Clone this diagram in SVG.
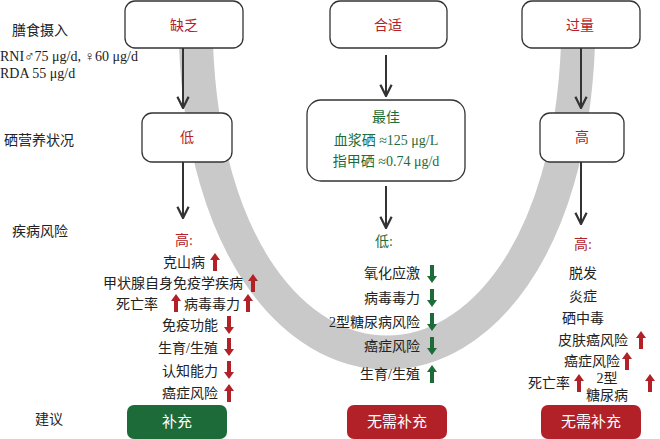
<svg xmlns="http://www.w3.org/2000/svg" xmlns:xlink="http://www.w3.org/1999/xlink" width="660" height="439" viewBox="0 0 660 439">
<style>
text{font-family:"Liberation Serif","Noto Sans CJK SC",serif;font-size:14px;fill:#222}
.box{fill:#fff;stroke:#333;stroke-width:1.3}
.red{fill:#b22028}.grn{fill:#1e6b3a}.w{fill:#fff;font-size:15px}
.ln{stroke:#333;stroke-width:2;fill:none}
</style>
<defs>
<marker id="ah" viewBox="0 0 10 10" refX="9" refY="5" markerWidth="7" markerHeight="7" orient="auto"><path d="M1 1L9 5L1 9" fill="none" stroke="#333" stroke-width="1.6"/></marker>
<path id="up" d="M0-9L5-2H2V9H-2V-2H-5Z"/>
<path id="dn" d="M0 9L5 2H2V-9H-2V2H-5Z"/>
</defs>
<path d="M196 45C212 455 562 455 578 45" fill="none" stroke="#c9c9c9" stroke-width="34"/>
<g id="connectors">
<path class="ln" d="M183 48V108" marker-end="url(#ah)"/>
<path class="ln" d="M183 162V218" marker-end="url(#ah)"/>
<path class="ln" d="M386 55V96" marker-end="url(#ah)"/>
<path class="ln" d="M386 186V228" marker-end="url(#ah)"/>
<path class="ln" d="M581 48V108" marker-end="url(#ah)"/>
<path class="ln" d="M581 162V224" marker-end="url(#ah)"/>
</g>
<g id="labels">
<text x="12" y="35" font-size="15">膳食摄入</text>
<text x="0" y="61" font-size="13">RNI♂75 μg/d, ♀60 μg/d</text>
<text x="0" y="78" font-size="13">RDA 55 μg/d</text>
<text x="4" y="145" font-size="15">硒营养状况</text>
<text x="12" y="236" font-size="15">疾病风险</text>
<text x="35" y="424" font-size="15">建议</text>
</g>
<g id="n-lack"><rect class="box" x="125" y="1" width="118" height="47" rx="10"/><text class="red" x="184" y="30" text-anchor="middle">缺乏</text></g>
<g id="n-ok"><rect class="box" x="330" y="1" width="117" height="47" rx="10"/><text class="red" x="388" y="30" text-anchor="middle">合适</text></g>
<g id="n-over"><rect class="box" x="522" y="1" width="118" height="47" rx="10"/><text class="red" x="580" y="30" text-anchor="middle">过量</text></g>
<g id="n-low"><rect class="box" x="142" y="113" width="90" height="49" rx="10"/><text class="red" x="187" y="142" text-anchor="middle">低</text></g>
<g id="n-best"><rect class="box" x="307" y="100" width="158" height="81" rx="14"/>
<text class="grn" x="386" y="122" text-anchor="middle">最佳</text>
<text class="grn" x="386" y="145" text-anchor="middle">血浆硒 ≈125 μg/L</text>
<text class="grn" x="386" y="166" text-anchor="middle">指甲硒 ≈0.74 μg/d</text></g>
<g id="n-high"><rect class="box" x="540" y="113" width="84" height="49" rx="10"/><text class="red" x="582" y="142" text-anchor="middle">高</text></g>
<g id="risk-left">
<text class="red" x="184" y="245" text-anchor="middle">高:</text>
<text x="205" y="267" text-anchor="end">克山病</text><use href="#up" x="215" y="262" class="red"/>
<text x="243" y="288" text-anchor="end">甲状腺自身免疫学疾病</text><use href="#up" x="253" y="283" class="red"/>
<text x="158" y="309" text-anchor="end">死亡率</text><use href="#up" x="176" y="303" class="red"/>
<text x="240" y="309" text-anchor="end">病毒毒力</text><use href="#up" x="248" y="303" class="red"/>
<text x="218" y="330" text-anchor="end">免疫功能</text><use href="#dn" x="229" y="325" class="red"/>
<text x="218" y="353" text-anchor="end">生育/生殖</text><use href="#dn" x="229" y="347" class="red"/>
<text x="218" y="376" text-anchor="end">认知能力</text><use href="#dn" x="229" y="370" class="red"/>
<text x="218" y="398" text-anchor="end">癌症风险</text><use href="#up" x="229" y="393" class="red"/>
</g>
<g id="risk-mid">
<text class="grn" x="384" y="246" text-anchor="middle">低:</text>
<text x="420" y="278" text-anchor="end">氧化应激</text><use href="#dn" x="432" y="274" class="grn"/>
<text x="420" y="303" text-anchor="end">病毒毒力</text><use href="#dn" x="432" y="298" class="grn"/>
<text x="420" y="327" text-anchor="end">2型糖尿病风险</text><use href="#dn" x="432" y="322" class="grn"/>
<text x="420" y="351" text-anchor="end">癌症风险</text><use href="#dn" x="432" y="346" class="grn"/>
<text x="420" y="379" text-anchor="end">生育/生殖</text><use href="#up" x="432" y="374" class="grn"/>
</g>
<g id="risk-right">
<text class="red" x="583" y="249" text-anchor="middle">高:</text>
<text x="583" y="278" text-anchor="middle">脱发</text>
<text x="583" y="301" text-anchor="middle">炎症</text>
<text x="583" y="323" text-anchor="middle">硒中毒</text>
<text x="628" y="345" text-anchor="end">皮肤癌风险</text><use href="#up" x="641" y="340" class="red"/>
<text x="620" y="366" text-anchor="end">癌症风险</text><use href="#up" x="627" y="361" class="red"/>
<text x="570" y="388" text-anchor="end">死亡率</text><use href="#up" x="579" y="383" class="red"/>
<text x="607" y="383" text-anchor="middle">2型</text>
<text x="607" y="400" text-anchor="middle">糖尿病</text><use href="#up" x="650" y="383" class="red"/>
</g>
<g id="b-sup"><rect class="grn" x="127" y="405" width="100" height="34" rx="7"/><text class="w" x="177" y="427" text-anchor="middle">补充</text></g>
<g id="b-no1"><rect class="red" x="347" y="405" width="100" height="34" rx="7"/><text class="w" x="397" y="427" text-anchor="middle">无需补充</text></g>
<g id="b-no2"><rect class="red" x="541" y="405" width="100" height="34" rx="7"/><text class="w" x="591" y="427" text-anchor="middle">无需补充</text></g>
</svg>
